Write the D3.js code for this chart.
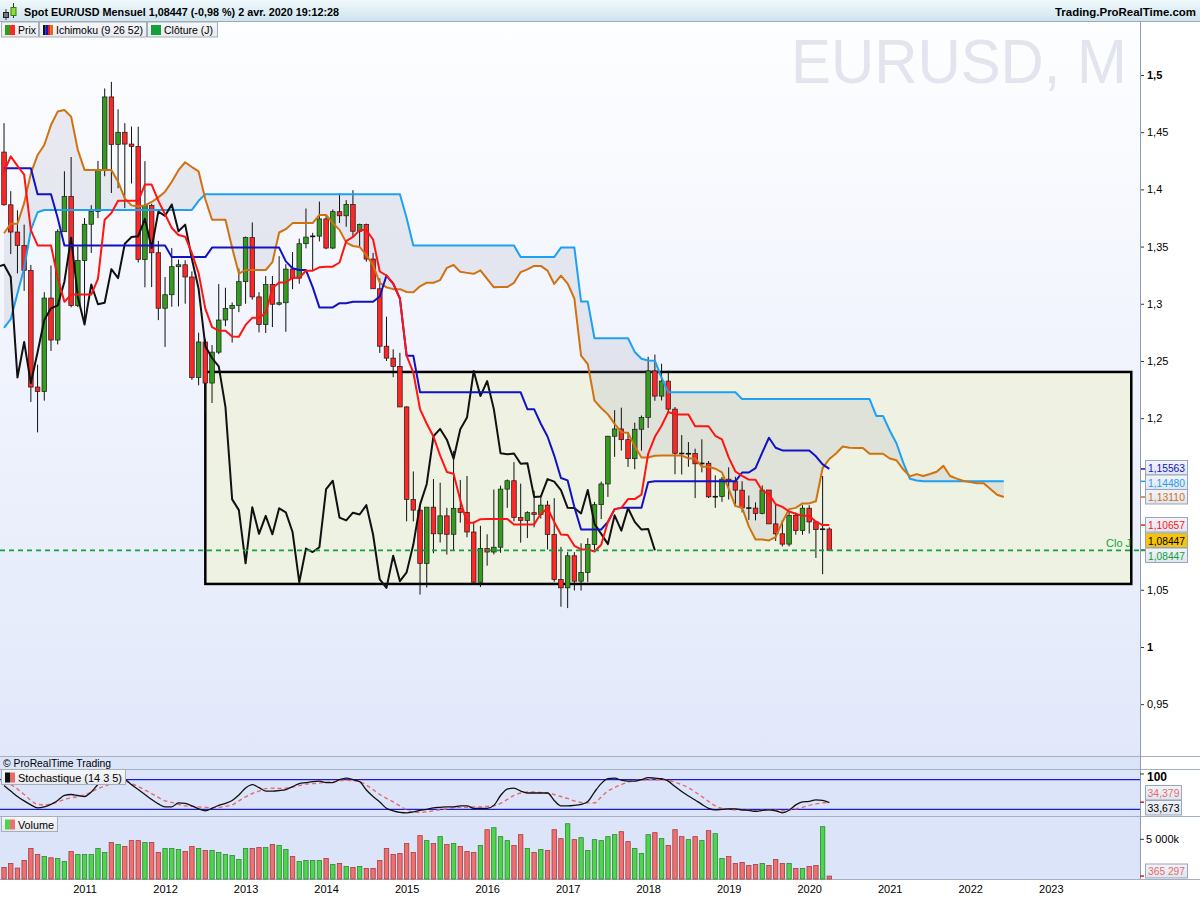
<!DOCTYPE html>
<html>
<head>
<meta charset="utf-8">
<script src="https://cdn.jsdelivr.net/npm/d3@7"></script>
<style>
  body { margin: 0; background: #fff; }
  svg { display: block; font-family: "Liberation Sans", Arial, sans-serif; }
</style>
</head>
<body>
<svg id="chart" width="1200" height="900"></svg>
<script>
// monthly candles, Jan 2010 .. Apr 2020 (index 0 = Jan 2010)
var open = [
  1.4326, 1.3865, 1.3627, 1.3510, 1.3291, 1.2272, 1.2232, 1.3050, 1.2683, 1.3630, 1.3938, 1.2984,
  1.3377, 1.3695, 1.3806, 1.4164, 1.4808, 1.4393, 1.4499, 1.4396, 1.4375, 1.3387, 1.3858, 1.3446,
  1.2961, 1.3079, 1.3324, 1.3341, 1.3234, 1.2356, 1.2666, 1.2307, 1.2577, 1.2858, 1.2960, 1.2986,
  1.3193, 1.3578, 1.3060, 1.2818, 1.3168, 1.2996, 1.3009, 1.3303, 1.3224, 1.3525, 1.3583, 1.3591,
  1.3742, 1.3487, 1.3805, 1.3769, 1.3868, 1.3634, 1.3692, 1.3391, 1.3131, 1.2629, 1.2525, 1.2453,
  1.2098, 1.1290, 1.1196, 1.0731, 1.1222, 1.0989, 1.1146, 1.0985, 1.1212, 1.1177, 1.1005, 1.0566,
  1.0860, 1.0830, 1.0872, 1.1380, 1.1453, 1.1131, 1.1106, 1.1174, 1.1158, 1.1240, 1.0983, 1.0590,
  1.0517, 1.0797, 1.0575, 1.0652, 1.0895, 1.1244, 1.1425, 1.1842, 1.1906, 1.1812, 1.1646, 1.1903,
  1.2005, 1.2413, 1.2193, 1.2324, 1.2079, 1.1693, 1.1685, 1.1691, 1.1601, 1.1606, 1.1312, 1.1315,
  1.1467, 1.1445, 1.1371, 1.1216, 1.1214, 1.1167, 1.1372, 1.1076, 1.0989, 1.0899, 1.1151, 1.1017,
  1.1213, 1.1093, 1.1026, 1.1031
];
var high = [
  1.4579, 1.3984, 1.3817, 1.3692, 1.3339, 1.2468, 1.3101, 1.3334, 1.3651, 1.4158, 1.4283, 1.3500,
  1.3750, 1.3862, 1.4249, 1.4882, 1.4940, 1.4700, 1.4579, 1.4549, 1.4548, 1.4247, 1.3874, 1.3549,
  1.3234, 1.3487, 1.3386, 1.3380, 1.3283, 1.2747, 1.2694, 1.2639, 1.3172, 1.3140, 1.3011, 1.3308,
  1.3588, 1.3711, 1.3101, 1.3243, 1.3243, 1.3416, 1.3346, 1.3452, 1.3569, 1.3833, 1.3620, 1.3893,
  1.3774, 1.3825, 1.3967, 1.3906, 1.3993, 1.3700, 1.3700, 1.3444, 1.3222, 1.2887, 1.2602, 1.2571,
  1.2105, 1.1534, 1.1246, 1.1035, 1.1467, 1.1436, 1.1216, 1.1714, 1.1460, 1.1495, 1.1095, 1.1059,
  1.0985, 1.1376, 1.1410, 1.1464, 1.1616, 1.1428, 1.1186, 1.1366, 1.1327, 1.1278, 1.1300, 1.0875,
  1.0829, 1.0829, 1.0906, 1.0951, 1.1268, 1.1446, 1.1846, 1.2070, 1.2092, 1.1880, 1.1961, 1.2023,
  1.2537, 1.2556, 1.2476, 1.2414, 1.2097, 1.1852, 1.1791, 1.1733, 1.1815, 1.1625, 1.1500, 1.1486,
  1.1570, 1.1488, 1.1448, 1.1324, 1.1264, 1.1412, 1.1286, 1.1249, 1.1109, 1.1179, 1.1175, 1.1239,
  1.1239, 1.1095, 1.1495, 1.1045
];
var low = [
  1.3858, 1.3434, 1.3266, 1.3113, 1.2142, 1.1876, 1.2153, 1.2588, 1.2645, 1.3630, 1.2969, 1.2970,
  1.2860, 1.3444, 1.3749, 1.4115, 1.3968, 1.4010, 1.3836, 1.4051, 1.3361, 1.3144, 1.3146, 1.2857,
  1.2623, 1.2974, 1.2977, 1.3001, 1.2335, 1.2287, 1.2042, 1.2133, 1.2560, 1.2804, 1.2661, 1.2927,
  1.3000, 1.3036, 1.2750, 1.2745, 1.2796, 1.2985, 1.2755, 1.3128, 1.3175, 1.3485, 1.3294, 1.3545,
  1.3477, 1.3477, 1.3706, 1.3673, 1.3591, 1.3503, 1.3368, 1.3131, 1.2570, 1.2500, 1.2358, 1.2098,
  1.1098, 1.1098, 1.0458, 1.0520, 1.0819, 1.0913, 1.0808, 1.0848, 1.1087, 1.0959, 1.0558, 1.0524,
  1.0711, 1.0809, 1.0823, 1.1216, 1.1098, 1.0912, 1.0952, 1.1046, 1.1123, 1.0852, 1.0570, 1.0352,
  1.0340, 1.0494, 1.0493, 1.0569, 1.0839, 1.1118, 1.1312, 1.1662, 1.1717, 1.1574, 1.1554, 1.1716,
  1.1915, 1.2152, 1.2155, 1.2055, 1.1510, 1.1508, 1.1575, 1.1301, 1.1527, 1.1302, 1.1216, 1.1269,
  1.1289, 1.1234, 1.1176, 1.1111, 1.1107, 1.1160, 1.1101, 1.0926, 1.0879, 1.0879, 1.0981, 1.0981,
  1.0992, 1.0778, 1.0636, 1.0845
];
var close = [
  1.3865, 1.3627, 1.3510, 1.3291, 1.2272, 1.2232, 1.3050, 1.2683, 1.3630, 1.3938, 1.2984, 1.3377,
  1.3695, 1.3806, 1.4164, 1.4808, 1.4393, 1.4499, 1.4396, 1.4375, 1.3387, 1.3858, 1.3446, 1.2961,
  1.3079, 1.3324, 1.3341, 1.3234, 1.2356, 1.2666, 1.2307, 1.2577, 1.2858, 1.2960, 1.2986, 1.3193,
  1.3578, 1.3060, 1.2818, 1.3168, 1.2996, 1.3009, 1.3303, 1.3224, 1.3525, 1.3583, 1.3591, 1.3742,
  1.3487, 1.3805, 1.3769, 1.3868, 1.3634, 1.3692, 1.3391, 1.3131, 1.2629, 1.2525, 1.2453, 1.2098,
  1.1290, 1.1196, 1.0731, 1.1222, 1.0989, 1.1146, 1.0985, 1.1212, 1.1177, 1.1005, 1.0566, 1.0860,
  1.0830, 1.0872, 1.1380, 1.1453, 1.1131, 1.1106, 1.1174, 1.1158, 1.1240, 1.0983, 1.0590, 1.0517,
  1.0797, 1.0575, 1.0652, 1.0895, 1.1244, 1.1425, 1.1842, 1.1906, 1.1812, 1.1646, 1.1903, 1.2005,
  1.2413, 1.2193, 1.2324, 1.2079, 1.1693, 1.1685, 1.1691, 1.1601, 1.1606, 1.1312, 1.1315, 1.1467,
  1.1445, 1.1371, 1.1216, 1.1214, 1.1167, 1.1372, 1.1076, 1.0989, 1.0899, 1.1151, 1.1017, 1.1213,
  1.1093, 1.1026, 1.1031, 1.08447
];
// volume in thousands
var volumeK = [
  1460, 1960, 1375, 2335, 3835, 3085, 2835, 2670, 2585, 2210, 3460, 3085,
  3085, 3085, 3835, 3335, 4585, 4335, 4085, 4835, 4835, 4585, 4585, 3335,
  3835, 3835, 3710, 3460, 4085, 3835, 3585, 3585, 3335, 3085, 2960, 2460,
  3835, 3835, 3960, 3960, 4335, 4210, 3710, 2835, 2210, 2335, 2335, 2335,
  2585, 1835, 1960, 1585, 1460, 1585, 1335, 1335, 2335, 3835, 3085, 3210,
  4460, 3335, 5460, 4835, 4460, 5335, 4335, 4460, 4085, 3460, 3335, 4210,
  6210, 6460, 5335, 4835, 4210, 5585, 3835, 3335, 3710, 3585, 6210, 5085,
  6960, 4960, 5210, 3585, 4960, 4835, 5335, 5585, 5960, 4710, 3835, 3210,
  5585, 5835, 5085, 4210, 6210, 5335, 4960, 5335, 4835, 6085, 5710, 2585,
  2835, 1960, 2085, 1710, 1835, 1960, 1710, 2460, 1960, 1960, 1335, 1335,
  1585, 1710, 6585, 365.297
];
// Ichimoku (9 26 52)
var tenkan = [
  1.4152, 1.4289, 1.4205, 1.4129, 1.3643, 1.3510, 1.3510, 1.3510, 1.3228, 1.3017, 1.3080, 1.3080,
  1.3080, 1.3080, 1.3218, 1.3735, 1.3793, 1.3900, 1.3900, 1.3900, 1.3900, 1.4042, 1.4042, 1.3899,
  1.3782, 1.3662, 1.3601, 1.3586, 1.3442, 1.3267, 1.2958, 1.2796, 1.2765, 1.2765, 1.2714, 1.2711,
  1.2815, 1.2877, 1.2877, 1.2922, 1.3136, 1.3186, 1.3186, 1.3228, 1.3228, 1.3289, 1.3289, 1.3319,
  1.3324, 1.3324, 1.3361, 1.3548, 1.3584, 1.3644, 1.3644, 1.3562, 1.3282, 1.3247, 1.3176, 1.3046,
  1.2546, 1.2399, 1.2079, 1.1951, 1.1840, 1.1673, 1.1530, 1.1515, 1.1282, 1.1086, 1.1086, 1.1117,
  1.1119, 1.1119, 1.1119, 1.1119, 1.1070, 1.1070, 1.1070, 1.1070, 1.1164, 1.1213, 1.1093, 1.0984,
  1.0978, 1.0884, 1.0853, 1.0853, 1.0834, 1.0893, 1.1093, 1.1205, 1.1216, 1.1293, 1.1293, 1.1331,
  1.1688, 1.1837, 1.1934, 1.2055, 1.2033, 1.2032, 1.2032, 1.1929, 1.1929, 1.1929, 1.1846, 1.1815,
  1.1657, 1.1534, 1.1496, 1.1463, 1.1461, 1.1366, 1.1336, 1.1248, 1.1225, 1.1184, 1.1164, 1.1146,
  1.1146, 1.1095, 1.1066, 1.10657
];
var kijun = [
  1.4184, 1.4184, 1.4184, 1.4184, 1.4184, 1.3957, 1.3957, 1.3957, 1.3750, 1.3510, 1.3510, 1.3510,
  1.3510, 1.3510, 1.3510, 1.3510, 1.3510, 1.3510, 1.3510, 1.3510, 1.3510, 1.3510, 1.3510, 1.3510,
  1.3510, 1.3408, 1.3408, 1.3408, 1.3408, 1.3408, 1.3408, 1.3491, 1.3491, 1.3491, 1.3491, 1.3491,
  1.3491, 1.3491, 1.3491, 1.3491, 1.3491, 1.3491, 1.3371, 1.3311, 1.3296, 1.3295, 1.3145, 1.2968,
  1.2968, 1.2968, 1.3005, 1.3005, 1.3018, 1.3018, 1.3018, 1.3018, 1.3063, 1.3247, 1.3176, 1.3046,
  1.2546, 1.2546, 1.2226, 1.2226, 1.2226, 1.2226, 1.2226, 1.2226, 1.2226, 1.2226, 1.2226, 1.2226,
  1.2226, 1.2226, 1.2226, 1.2226, 1.2226, 1.2226, 1.2079, 1.2079, 1.1951, 1.1840, 1.1673, 1.1477,
  1.1456, 1.1223, 1.1027, 1.1027, 1.1027, 1.1027, 1.1093, 1.1205, 1.1216, 1.1216, 1.1216, 1.1216,
  1.1439, 1.1448, 1.1448, 1.1448, 1.1448, 1.1448, 1.1448, 1.1448, 1.1448, 1.1448, 1.1448, 1.1448,
  1.1448, 1.1448, 1.1525, 1.1525, 1.1563, 1.1698, 1.1829, 1.1741, 1.1718, 1.1718, 1.1718, 1.1718,
  1.1718, 1.1667, 1.1596, 1.15563
];
// leading spans, index 0 = Jan 2010, running 26 months past the last candle
var spanA = [
  1.3616, 1.3700, 1.3700, 1.3880, 1.4140, 1.4300, 1.4388, 1.4563, 1.4680, 1.4694,
  1.4636, 1.4344, 1.4170, 1.4170, 1.4170, 1.4170, 1.4170, 1.4067, 1.3920, 1.3860,
  1.3850, 1.3860, 1.3890, 1.3930, 1.3980, 1.4067, 1.4168, 1.4237, 1.4195, 1.4157,
  1.3914, 1.3734, 1.3734, 1.3734, 1.3489, 1.3264, 1.3295, 1.3295, 1.3295, 1.3295,
  1.3364, 1.3623, 1.3652, 1.3705, 1.3705, 1.3705, 1.3705, 1.3776, 1.3776, 1.3705,
  1.3646, 1.3535, 1.3505, 1.3497, 1.3425, 1.3338, 1.3183, 1.3144, 1.3128, 1.3128,
  1.3103, 1.3101, 1.3153, 1.3184, 1.3184, 1.3207, 1.3314, 1.3339, 1.3279, 1.3270,
  1.3262, 1.3292, 1.3217, 1.3144, 1.3146, 1.3146, 1.3183, 1.3277, 1.3301, 1.3331,
  1.3331, 1.3290, 1.3173, 1.3247, 1.3176, 1.3046, 1.2546, 1.2473, 1.2153, 1.2089,
  1.2033, 1.1950, 1.1878, 1.1871, 1.1754, 1.1656, 1.1656, 1.1672, 1.1673, 1.1673,
  1.1673, 1.1673, 1.1648, 1.1648, 1.1575, 1.1575, 1.1558, 1.1527, 1.1383, 1.1231,
  1.1217, 1.1054, 1.0940, 1.0940, 1.0931, 1.0960, 1.1093, 1.1205, 1.1216, 1.1255,
  1.1255, 1.1274, 1.1564, 1.1643, 1.1691, 1.1752, 1.1741, 1.1740, 1.1740, 1.1689,
  1.1689, 1.1689, 1.1647, 1.1632, 1.1553, 1.1491, 1.1511, 1.1494, 1.1512, 1.1532,
  1.1583, 1.1495, 1.1472, 1.1451, 1.1441, 1.1432, 1.1432, 1.1381, 1.1331, 1.13110
];
var spanB = [
  1.2790, 1.2865, 1.3090, 1.3310, 1.3645, 1.3800, 1.3820, 1.3820, 1.3820, 1.3820,
  1.3820, 1.3820, 1.3820, 1.3820, 1.3820, 1.3820, 1.3820, 1.3820, 1.3820, 1.3820,
  1.3820, 1.3820, 1.3820, 1.3820, 1.3820, 1.3820, 1.3820, 1.3820, 1.3820, 1.3900,
  1.3957, 1.3957, 1.3957, 1.3957, 1.3957, 1.3957, 1.3957, 1.3957, 1.3957, 1.3957,
  1.3957, 1.3957, 1.3957, 1.3957, 1.3957, 1.3957, 1.3957, 1.3957, 1.3957, 1.3957,
  1.3957, 1.3957, 1.3957, 1.3957, 1.3957, 1.3957, 1.3957, 1.3957, 1.3957, 1.3957,
  1.3750, 1.3510, 1.3510, 1.3510, 1.3510, 1.3510, 1.3510, 1.3510, 1.3510, 1.3510,
  1.3510, 1.3510, 1.3510, 1.3510, 1.3510, 1.3510, 1.3510, 1.3408, 1.3408, 1.3408,
  1.3408, 1.3408, 1.3408, 1.3491, 1.3491, 1.3491, 1.3019, 1.3019, 1.2699, 1.2699,
  1.2699, 1.2699, 1.2699, 1.2699, 1.2579, 1.2519, 1.2504, 1.2503, 1.2353, 1.2226,
  1.2226, 1.2226, 1.2226, 1.2226, 1.2226, 1.2226, 1.2226, 1.2226, 1.2226, 1.2226,
  1.2167, 1.2167, 1.2167, 1.2167, 1.2167, 1.2167, 1.2167, 1.2167, 1.2167, 1.2167,
  1.2167, 1.2167, 1.2167, 1.2167, 1.2167, 1.2167, 1.2167, 1.2167, 1.2167, 1.2167,
  1.2020, 1.2020, 1.1892, 1.1781, 1.1614, 1.1471, 1.1456, 1.1448, 1.1448, 1.1448,
  1.1448, 1.1448, 1.1448, 1.1448, 1.1448, 1.1448, 1.1448, 1.1448, 1.1448, 1.14480
];
var chikouShift = 26;
// Stochastique (14 3 5)
var stochK = [
  68, 57, 46, 37, 29, 23, 25, 30, 38, 48, 50, 48,
  46, 55, 70, 78, 82, 81, 80, 70, 60, 50, 40, 31,
  25, 25, 33, 32, 27, 21, 17, 22, 28, 32, 38, 49,
  63, 70, 64, 57, 57, 58, 60, 66, 72, 74, 76, 77,
  74, 74, 80, 83, 80, 76, 59, 46, 35, 22, 17, 14,
  13, 15, 18, 20, 23, 24, 25, 25, 27, 27, 22, 22,
  22, 28, 48, 61, 63, 57, 53, 53, 53, 53, 38, 27,
  27, 28, 30, 36, 55, 72, 82, 83, 79, 77, 77, 80,
  84, 83, 82, 77, 66, 56, 47, 39, 30, 22, 19, 20,
  21, 21, 19, 18, 16, 18, 19, 17, 13, 18, 29, 35,
  36, 39, 38, 33.673
];
var stochD = [
  75, 70, 61, 50, 38, 30, 29, 31, 35, 40, 43, 46,
  49, 55, 62, 67, 72, 76, 77, 72, 66, 59, 52, 44,
  37, 34, 30, 27, 26, 25, 24, 23, 24, 26, 29, 37,
  45, 52, 57, 62, 63, 62, 63, 65, 68, 71, 72, 73,
  75, 76, 78, 79, 78, 76, 69, 60, 50, 42, 35, 27,
  19, 14, 14, 15, 17, 19, 21, 23, 24, 24, 25, 25,
  26, 27, 32, 40, 48, 53, 55, 55, 54, 53, 50, 46,
  42, 37, 34, 33, 33, 45, 57, 64, 70, 75, 78, 79,
  80, 80, 80, 79, 75, 70, 64, 55, 46, 36, 27, 22,
  20, 19, 18, 18, 17, 18, 19, 18, 17, 19, 21, 24,
  28, 31, 33, 34.379
];
var stochLevels = [20, 80];

var yearLabels = ['2011', '2012', '2013', '2014', '2015', '2016', '2017', '2018', '2019', '2020', '2021', '2022', '2023'];
var yearIndex = [12, 24, 36, 48, 60, 72, 84, 96, 108, 120, 132, 144, 156];
// 1,1 and 1,15 sit under the value tags in the original, so they are not labelled
var priceTicks = [0.95, 1, 1.05, 1.2, 1.25, 1.3, 1.35, 1.4, 1.45, 1.5];
var lastClose = 1.08447;
var zoneMonths = [30, 168];
var zonePrices = [1.0551, 1.2404];
var sideValues = [1.15563, 1.14480, 1.13110, 1.10657, 1.08447, 1.08447];

// ---------- layout ----------
var svg = d3.select('#chart');
var PR = 1140;           // right edge of plotting area
var MAIN_TOP = 22, MAIN_BOT = 756;
var ST_TOP = 769, ST_BOT = 816;
var VOL_TOP = 816, VOL_BOT = 879;

var x = d3.scaleLinear().domain([-0.6, 169.3]).range([0, PR]);
var y = d3.scaleLinear().domain([0.9047, 1.5463]).range([MAIN_BOT, MAIN_TOP]);
var yS = d3.scaleLinear().domain([0, 100]).range([819.2, 769.8]);
var yV = d3.scaleLinear().domain([0, 5000]).range([VOL_BOT, 839.3]);

var GREEN = '#359b1f', RED = '#ff2626';
var cTenkan = '#ff1414', cKijun = '#1212c4', cSpanA = '#d0720f', cSpanB = '#1ea0f3', cChikou = '#111111';
var fmtComma = function(v, d) { return v.toFixed(d).replace('.', ','); };

var defs = svg.append('defs');
function vGrad(id, stops) {
  var g = defs.append('linearGradient').attr('id', id).attr('x1', 0).attr('y1', 0).attr('x2', 0).attr('y2', 1);
  stops.forEach(function(s) { g.append('stop').attr('offset', s[0]).attr('stop-color', s[1]); });
}
vGrad('bgMain', [[0, '#fdfeff'], [1, '#e2e8fa']]);
vGrad('bgTitle', [[0, '#f0f9fc'], [1, '#cfe4ee']]);
vGrad('bgBox', [[0, '#f2f4fa'], [1, '#dfe5ef']]);
vGrad('bgLeg', [[0, '#f6f7f9'], [1, '#e6e9ee']]);
defs.append('clipPath').attr('id', 'clipMain').append('rect')
  .attr('x', 0).attr('y', MAIN_TOP).attr('width', PR).attr('height', MAIN_BOT - MAIN_TOP);
defs.append('clipPath').attr('id', 'clipSt').append('rect')
  .attr('x', 0).attr('y', ST_TOP).attr('width', PR).attr('height', ST_BOT - ST_TOP);

// backgrounds
svg.append('rect').attr('width', 1200).attr('height', 900).attr('fill', '#dbe4f9');
svg.append('rect').attr('x', 0).attr('y', MAIN_TOP).attr('width', PR).attr('height', MAIN_BOT - MAIN_TOP).attr('fill', 'url(#bgMain)');
svg.append('rect').attr('x', PR).attr('y', MAIN_TOP).attr('width', 1200 - PR).attr('height', 900 - MAIN_TOP).attr('fill', '#ffffff');
svg.append('rect').attr('x', 0).attr('y', VOL_BOT).attr('width', 1200).attr('height', 900 - VOL_BOT).attr('fill', '#ffffff');

// ---------- main pane ----------
var main = svg.append('g').attr('clip-path', 'url(#clipMain)');

main.append('text')
  .attr('x', 791).attr('y', 83).attr('font-size', 63).attr('fill', '#e3e5ee')
  .attr('textLength', 336).attr('lengthAdjust', 'spacingAndGlyphs')
  .text('EURUSD, M');

// zone rectangle
main.append('rect')
  .attr('x', x(zoneMonths[0])).attr('y', y(zonePrices[1]))
  .attr('width', x(zoneMonths[1]) - x(zoneMonths[0]))
  .attr('height', y(zonePrices[0]) - y(zonePrices[1]))
  .attr('fill', '#eef2df').attr('fill-opacity', 0.9)
  .attr('stroke', '#000').attr('stroke-width', 2.5);

// cloud
main.append('path').datum(spanA)
  .attr('d', d3.area().x(function(d, j) { return x(j); })
    .y0(function(d, j) { return y(spanB[j]); })
    .y1(function(d) { return y(d); }))
  .attr('fill', '#8f92aa').attr('fill-opacity', 0.16);

// candles
var cg = main.append('g');
close.forEach(function(c, i) {
  var o = open[i], up = c >= o, cx = x(i);
  cg.append('line').attr('x1', cx).attr('x2', cx).attr('y1', y(high[i])).attr('y2', y(low[i]))
    .attr('stroke', '#111').attr('stroke-width', 1);
  var top = y(Math.max(o, c)), h = Math.abs(y(o) - y(c));
  if (h < 1.2) {
    cg.append('rect').attr('x', cx - 2.6).attr('y', top - 0.6).attr('width', 5.2).attr('height', 1.6).attr('fill', '#111');
  } else {
    cg.append('rect').attr('x', cx - 2.3).attr('y', top).attr('width', 4.6).attr('height', h)
      .attr('fill', up ? GREEN : RED).attr('stroke', '#1a1a1a').attr('stroke-width', 0.7);
  }
});

// ichimoku lines
function drawLine(values, shift, color, width) {
  main.append('path').datum(values)
    .attr('d', d3.line().x(function(d, i) { return x(i + shift); }).y(function(d) { return y(d); }))
    .attr('fill', 'none').attr('stroke', color).attr('stroke-width', width).attr('stroke-linejoin', 'round');
}
drawLine(spanB, 0, cSpanB, 2);
drawLine(spanA, 0, cSpanA, 2);
drawLine(close.slice(chikouShift - 1), -1, cChikou, 2);
drawLine(kijun, 0, cKijun, 2);
drawLine(tenkan, 0, cTenkan, 2);

// daily close line
main.append('line').attr('x1', 0).attr('x2', PR).attr('y1', y(lastClose)).attr('y2', y(lastClose))
  .attr('stroke', '#14a03c').attr('stroke-width', 1.6).attr('stroke-dasharray', '5,4');
svg.append('text').attr('x', 1106).attr('y', y(lastClose) - 3).attr('font-size', 11)
  .attr('fill', '#14a03c').text('Clo J');

// price axis
var yAxis = svg.append('g').attr('transform', 'translate(' + PR + ',0)')
  .call(d3.axisRight(y).tickValues(priceTicks).tickSize(4).tickPadding(3)
    .tickFormat(function(d) { return String(+d.toFixed(2)).replace('.', ','); }));
yAxis.select('.domain').remove();
yAxis.selectAll('line').attr('stroke', '#333');
yAxis.selectAll('text').attr('font-size', 11).attr('fill', '#000')
  .attr('font-weight', function(d) { return (d === 1 || d === 1.5) ? 'bold' : 'normal'; })
  .attr('font-family', '"Liberation Sans", Arial, sans-serif');

// value tags on the price axis
var tagColors = [cKijun, cSpanB, cSpanA, cTenkan, '#000', '#14a03c'];
var tagTops = [460.5, 475, 489.5, 517.5, 533, 548];
sideValues.forEach(function(v, k) {
  svg.append('line').attr('x1', PR).attr('x2', PR + 5).attr('y1', y(v)).attr('y2', y(v))
    .attr('stroke', tagColors[k]).attr('stroke-width', 1.5);
  svg.append('rect').attr('x', 1145.5).attr('y', tagTops[k]).attr('width', 42).attr('height', 14.5)
    .attr('fill', k === 4 ? '#f6c40c' : 'url(#bgBox)').attr('stroke', '#97a6ba').attr('stroke-width', 1);
  svg.append('text').attr('x', 1148).attr('y', tagTops[k] + 11.5).attr('font-size', 11.5)
    .attr('fill', tagColors[k]).attr('textLength', 37).attr('lengthAdjust', 'spacingAndGlyphs')
    .text(fmtComma(v, 5));
});

// ---------- title bar & legends ----------
svg.append('rect').attr('x', 0).attr('y', 0).attr('width', 1200).attr('height', 21).attr('fill', 'url(#bgTitle)');
svg.append('line').attr('x1', 0).attr('x2', 1200).attr('y1', 21.5).attr('y2', 21.5).attr('stroke', '#9aabb8');
// little candle icon
svg.append('line').attr('x1', 6).attr('x2', 6).attr('y1', 9).attr('y2', 20).attr('stroke', '#333');
svg.append('rect').attr('x', 3.5).attr('y', 12.5).attr('width', 5).attr('height', 5).attr('fill', '#777').attr('stroke', '#222');
svg.append('line').attr('x1', 13.5).attr('x2', 13.5).attr('y1', 3).attr('y2', 18).attr('stroke', '#333');
svg.append('rect').attr('x', 11).attr('y', 7.5).attr('width', 5).attr('height', 8).attr('fill', '#8fdc3a').attr('stroke', '#3a7a10');
svg.append('text').attr('x', 24).attr('y', 16).attr('font-size', 11.5).attr('font-weight', 'bold')
  .attr('textLength', 315).attr('lengthAdjust', 'spacingAndGlyphs')
  .text('Spot EUR/USD Mensuel 1,08447 (-0,98 %) 2 avr. 2020 19:12:28');
svg.append('text').attr('x', 1196).attr('y', 16).attr('font-size', 11.5).attr('font-weight', 'bold')
  .attr('text-anchor', 'end').attr('textLength', 141).attr('lengthAdjust', 'spacingAndGlyphs')
  .text('Trading.ProRealTime.com');

function legendBox(x0, y0, w, label, swatch, textW) {
  svg.append('rect').attr('x', x0 + 0.5).attr('y', y0 + 0.5).attr('width', w).attr('height', 15)
    .attr('fill', 'url(#bgLeg)').attr('stroke', '#a6aeb8');
  var sw = 10 / swatch.length;
  swatch.forEach(function(c, k) {
    svg.append('rect').attr('x', x0 + 4 + k * sw).attr('y', y0 + 3.5).attr('width', sw).attr('height', 10).attr('fill', c);
  });
  svg.append('text').attr('x', x0 + 17).attr('y', y0 + 12.5).attr('font-size', 11.5)
    .attr('textLength', textW).attr('lengthAdjust', 'spacingAndGlyphs').text(label);
}
legendBox(1, 21.5, 37, 'Prix', [GREEN, RED], 18);
legendBox(39, 21.5, 107, 'Ichimoku (9 26 52)', ['#111', cKijun, cTenkan, cSpanA], 87);
legendBox(147, 21.5, 70, 'Clôture (J)', ['#12a03a'], 49);

// ---------- pane separators ----------
[MAIN_BOT, ST_TOP, ST_BOT, VOL_BOT].forEach(function(yy) {
  svg.append('line').attr('x1', 0).attr('x2', 1200).attr('y1', yy + 0.5).attr('y2', yy + 0.5).attr('stroke', '#a3b0c0');
});
svg.append('line').attr('x1', PR + 0.5).attr('x2', PR + 0.5).attr('y1', MAIN_TOP).attr('y2', VOL_BOT)
  .attr('stroke', '#8e9cac');
svg.append('text').attr('x', 3).attr('y', 767).attr('font-size', 11)
  .attr('textLength', 108).attr('lengthAdjust', 'spacingAndGlyphs').text('© ProRealTime Trading');

// ---------- stochastic pane ----------
var st = svg.append('g').attr('clip-path', 'url(#clipSt)');
stochLevels.forEach(function(l) {
  st.append('line').attr('x1', 0).attr('x2', PR).attr('y1', yS(l)).attr('y2', yS(l))
    .attr('stroke', '#1c1cd0').attr('stroke-width', 1.2);
});
var sLine = d3.line().x(function(d, i) { return x(i); }).y(function(d) { return yS(d); }).curve(d3.curveMonotoneX);
st.append('path').datum(stochD).attr('d', sLine).attr('fill', 'none')
  .attr('stroke', '#e86a6a').attr('stroke-width', 1.4).attr('stroke-dasharray', '4,3');
st.append('path').datum(stochK).attr('d', sLine).attr('fill', 'none')
  .attr('stroke', '#111').attr('stroke-width', 1.3);
legendBox(1, 769, 124, 'Stochastique (14 3 5)', ['#111', '#e86a6a'], 104);

svg.append('line').attr('x1', PR).attr('x2', PR + 4).attr('y1', 774).attr('y2', 774).attr('stroke', '#333');
svg.append('text').attr('x', 1147).attr('y', 781).attr('font-size', 12).attr('font-weight', 'bold').text('100');
var stTags = [[stochD[stochD.length - 1], '#e86a6a', 785.5], [stochK[stochK.length - 1], '#000', 800.5]];
stTags.forEach(function(t) {
  svg.append('rect').attr('x', 1145.5).attr('y', t[2]).attr('width', 36).attr('height', 14.5)
    .attr('fill', 'url(#bgBox)').attr('stroke', '#97a6ba');
  svg.append('text').attr('x', 1147.5).attr('y', t[2] + 11.5).attr('font-size', 11.5).attr('fill', t[1])
    .attr('textLength', 32).attr('lengthAdjust', 'spacingAndGlyphs').text(fmtComma(t[0], 3));
});
svg.append('line').attr('x1', PR).attr('x2', PR + 4).attr('y1', yS(stochD[stochD.length - 1])).attr('y2', yS(stochD[stochD.length - 1]))
  .attr('stroke', '#d02020').attr('stroke-width', 1.5);

// ---------- volume pane ----------
var vg = svg.append('g');
volumeK.forEach(function(v, i) {
  var up = close[i] >= open[i];
  var top = yV(v);
  vg.append('rect').attr('x', x(i) - 2.2).attr('y', top).attr('width', 4.4).attr('height', VOL_BOT - top)
    .attr('fill', up ? '#4fd44f' : '#ee7070').attr('stroke', up ? '#2c8a2c' : '#a83c3c').attr('stroke-width', 0.8);
});
legendBox(1, 816, 56, 'Volume', ['#4fd44f', '#ee7070'], 36);
svg.append('line').attr('x1', PR).attr('x2', PR + 4).attr('y1', yV(5000)).attr('y2', yV(5000)).attr('stroke', '#333');
svg.append('text').attr('x', 1146).attr('y', yV(5000) + 4).attr('font-size', 11).text('5 000k');
svg.append('line').attr('x1', PR).attr('x2', PR + 4).attr('y1', yV(volumeK[volumeK.length - 1])).attr('y2', yV(volumeK[volumeK.length - 1]))
  .attr('stroke', '#d02020').attr('stroke-width', 1.5);
svg.append('rect').attr('x', 1145.5).attr('y', 864).attr('width', 42).attr('height', 14)
  .attr('fill', 'url(#bgBox)').attr('stroke', '#97a6ba');
svg.append('text').attr('x', 1148).attr('y', 875).attr('font-size', 11.5).attr('fill', '#e86a6a')
  .attr('textLength', 37).attr('lengthAdjust', 'spacingAndGlyphs').text('365 297');

// ---------- time axis ----------
var xAxis = svg.append('g').attr('transform', 'translate(0,' + VOL_BOT + ')')
  .call(d3.axisBottom(x).tickValues(yearIndex).tickSize(0).tickPadding(6)
    .tickFormat(function(d, k) { return yearLabels[k]; }));
xAxis.select('.domain').remove();
xAxis.selectAll('text').attr('font-size', 11).attr('fill', '#000')
  .attr('font-family', '"Liberation Sans", Arial, sans-serif');
</script>
</body>
</html>
